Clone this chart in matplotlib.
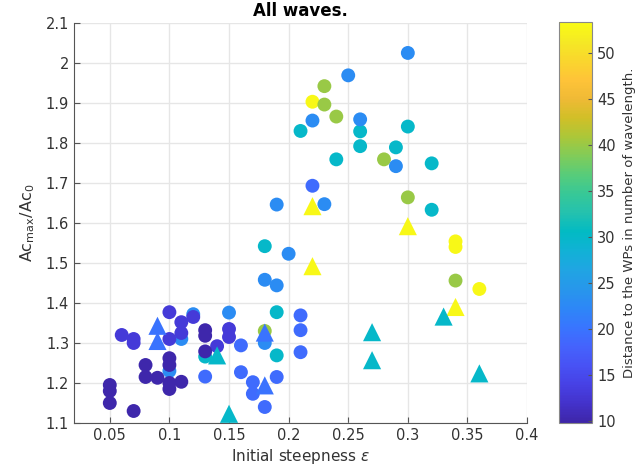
import numpy as np
import matplotlib
matplotlib.use('Agg')
import matplotlib.pyplot as plt
from matplotlib.colors import LinearSegmentedColormap, Normalize

# parula colours, every 3rd entry of the 64-step map
parula_rgb = [
    [0.2422, 0.1504, 0.6603], [0.2647, 0.1978, 0.7952], [0.2783, 0.2559, 0.8991],
    [0.2810, 0.3228, 0.9579], [0.2699, 0.3892, 0.9906], [0.2206, 0.4603, 0.9973],
    [0.1786, 0.5289, 0.9682], [0.1540, 0.5902, 0.9218], [0.1248, 0.6459, 0.8883],
    [0.0689, 0.6948, 0.8394], [0.0067, 0.7312, 0.7660], [0.1408, 0.7584, 0.6842],
    [0.2161, 0.7843, 0.5923], [0.3406, 0.8008, 0.4789], [0.5044, 0.7993, 0.3480],
    [0.6720, 0.7793, 0.2227], [0.8203, 0.7498, 0.1535], [0.9393, 0.7288, 0.2100],
    [0.9970, 0.7659, 0.2199], [0.9786, 0.8386, 0.1766], [0.9597, 0.9135, 0.1423],
    [0.9769, 0.9839, 0.0805],
]
parula = LinearSegmentedColormap.from_list('parula', parula_rgb, N=256)

# colour limits (distance, in wavelengths)
cmin, cmax = 9.8, 53.4

# circles: steepness, amplification, distance
circ_eps = [0.05, 0.05, 0.05, 0.07, 0.08, 0.08, 0.09, 0.10, 0.10, 0.10, 0.10, 0.11, 0.13, 0.13, 0.13,
            0.06, 0.07, 0.07, 0.10, 0.10, 0.11, 0.11, 0.12, 0.14, 0.15, 0.15,
            0.13, 0.16, 0.16, 0.17, 0.17, 0.18, 0.19, 0.21, 0.21, 0.21, 0.22,
            0.10, 0.11, 0.12, 0.15, 0.18, 0.18, 0.19, 0.19, 0.23, 0.20, 0.22, 0.25, 0.26, 0.29, 0.30,
            0.13, 0.18, 0.19, 0.19, 0.21, 0.24, 0.26, 0.26, 0.29, 0.30, 0.32, 0.32,
            0.18, 0.23, 0.23, 0.24, 0.28, 0.30, 0.34,
            0.22, 0.34, 0.34, 0.36]
circ_amp = [1.195, 1.18, 1.15, 1.13, 1.245, 1.215, 1.213, 1.262, 1.245, 1.2, 1.185, 1.203, 1.332, 1.318, 1.279,
            1.32, 1.31, 1.30, 1.377, 1.31, 1.352, 1.325, 1.365, 1.292, 1.335, 1.315,
            1.216, 1.294, 1.227, 1.202, 1.173, 1.14, 1.215, 1.369, 1.332, 1.277, 1.693,
            1.23, 1.31, 1.372, 1.376, 1.30, 1.458, 1.444, 1.646, 1.647, 1.523, 1.856, 1.969, 1.859, 1.742, 2.025,
            1.266, 1.542, 1.377, 1.269, 1.83, 1.759, 1.829, 1.792, 1.789, 1.841, 1.633, 1.749,
            1.33, 1.942, 1.896, 1.866, 1.759, 1.664, 1.456,
            1.903, 1.554, 1.54, 1.435]
circ_dist = [10] * 15 + [13] * 11 + [19] * 11 + [23] * 15 + [30] * 12 + [40] * 7 + [53] * 4

# triangles
tri_eps = [0.09, 0.09, 0.18, 0.18, 0.22, 0.22, 0.30, 0.34, 0.14, 0.15, 0.27, 0.27, 0.33, 0.36]
tri_amp = [1.343, 1.305, 1.326, 1.194, 1.642, 1.492, 1.592, 1.39, 1.269, 1.123, 1.327, 1.257, 1.366, 1.224]
tri_dist = [20, 20, 20, 20, 53, 53, 53, 53, 30, 30, 30, 30, 30, 30]

fig = plt.figure(figsize=(6.36, 4.74), dpi=100)
ax = fig.add_axes([0.1164, 0.1076, 0.7123, 0.844])
cax = fig.add_axes([0.879, 0.1076, 0.052, 0.846])

norm = Normalize(vmin=cmin, vmax=cmax)
order = np.argsort(circ_dist, kind='stable')[::-1]
ax.scatter(np.array(circ_eps)[order], np.array(circ_amp)[order], c=np.array(circ_dist)[order],
           cmap=parula, norm=norm, s=100, marker='o', edgecolors='none', zorder=3)
sc = ax.scatter(tri_eps, tri_amp, c=tri_dist, cmap=parula, norm=norm, s=170, marker='^',
                edgecolors='none', zorder=4)

ax.set_xlim(0.02, 0.4)
ax.set_ylim(1.1, 2.1)
ax.set_xticks([0.05, 0.1, 0.15, 0.2, 0.25, 0.3, 0.35, 0.4])
ax.set_xticklabels(['0.05', '0.1', '0.15', '0.2', '0.25', '0.3', '0.35', '0.4'])
ax.set_yticks(np.round(np.arange(1.1, 2.11, 0.1), 1))
ax.set_yticklabels(['1.1', '1.2', '1.3', '1.4', '1.5', '1.6', '1.7', '1.8', '1.9', '2', '2.1'])
ax.grid(True, color='#e6e6e6', linewidth=1)
ax.set_axisbelow(True)
for s in ['top', 'right']:
    ax.spines[s].set_visible(False)
for s in ['left', 'bottom']:
    ax.spines[s].set_color('#555555')
ax.tick_params(direction='in', length=4, colors='#555555', labelcolor='#333333', labelsize=10.5)
ax.set_xlabel(r'Initial steepness $\epsilon$', fontsize=11, color='#333333', labelpad=3)
ax.set_ylabel(r'Ac$_{\mathrm{max}}$/Ac$_0$', fontsize=11.5, color='#333333', labelpad=6)
ax.set_title('All waves.', fontsize=12, fontweight='bold', pad=5)

cb = fig.colorbar(sc, cax=cax)
cb.set_ticks([10, 15, 20, 25, 30, 35, 40, 45, 50])
cb.ax.tick_params(direction='in', length=3, colors='#555555', labelcolor='#333333', labelsize=10.5)
cb.outline.set_edgecolor('#888888')
cb.set_label('Distance to the WPs in number of wavelength.', fontsize=9.5, color='#333333', labelpad=5)

fig.savefig('out.png', dpi=100)
